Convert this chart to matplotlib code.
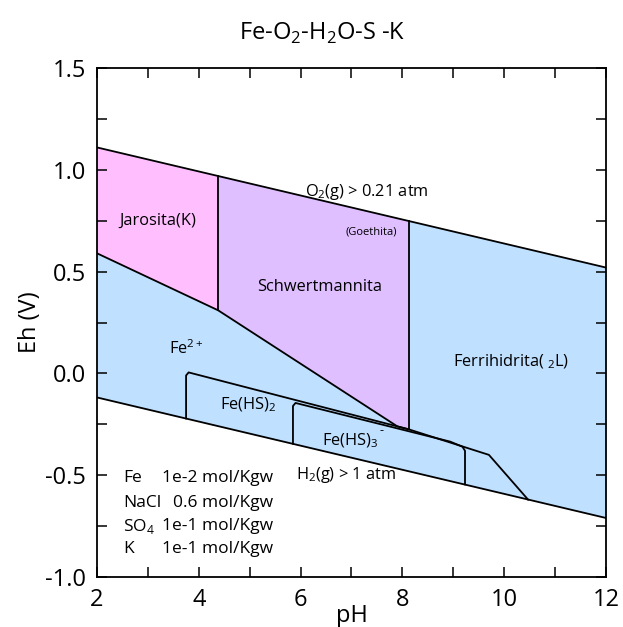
import numpy as np
import matplotlib.pyplot as plt

plt.rcParams['font.family'] = ['Open Sans', 'DejaVu Sans']
plt.rcParams['mathtext.fontset'] = 'custom'
plt.rcParams['mathtext.rm'] = 'Open Sans'

# water stability limits (pH ends)
ph_lim = [2, 12]
eh_o2 = [1.11, 0.52]
eh_h2 = [-0.118, -0.71]

# region boundaries
jaro_ph = [2, 4.38, 4.38, 2]
jaro_eh = [1.11, 0.97, 0.31, 0.59]
schw_ph = [4.38, 8.13, 8.13, 7.9, 4.38]
schw_eh = [0.97, 0.75, -0.275, -0.26, 0.31]

fe2_low_ph = [2, 4.38, 7.9, 8.13]
fe2_low_eh = [0.59, 0.31, -0.26, -0.275]

feHS2_ph = [3.75, 3.75, 3.8, 7.9, 8.13, 9.7, 10.47]
feHS2_eh = [-0.221, -0.01, 0.005, -0.26, -0.275, -0.40, -0.62]

feHS3_ph = [5.85, 5.85, 5.9, 8.94, 9.18, 9.23, 9.23]
feHS3_eh = [-0.345, -0.16, -0.145, -0.335, -0.36, -0.38, -0.545]

jaro_v_ph = [4.38, 4.38]
jaro_v_eh = [0.97, 0.31]
schw_v_ph = [8.13, 8.13]
schw_v_eh = [0.75, -0.275]

c_blue = '#bfe0ff'
c_pink = '#ffbfff'
c_lav = '#dfbfff'

fig = plt.figure(figsize=(6.23, 6.27), dpi=100)
ax = fig.add_axes([0.1557, 0.0797, 0.817, 0.8118])

ax.fill_between(ph_lim, eh_h2, eh_o2, color=c_blue, lw=0)
ax.fill(jaro_ph, jaro_eh, color=c_pink, lw=0)
ax.fill(schw_ph, schw_eh, color=c_lav, lw=0)

lw = 1.3
ax.plot(ph_lim, eh_o2, 'k', lw=lw)
ax.plot(ph_lim, eh_h2, 'k', lw=lw)
ax.plot(fe2_low_ph, fe2_low_eh, 'k', lw=lw)
ax.plot(jaro_v_ph, jaro_v_eh, 'k', lw=lw)
ax.plot(schw_v_ph, schw_v_eh, 'k', lw=lw)
ax.plot(feHS2_ph, feHS2_eh, 'k', lw=lw)
ax.plot(feHS3_ph, feHS3_eh, 'k', lw=lw)

fs = 11.8
ax.text(3.2, 0.75, 'Jarosita(K)', fontsize=fs, ha='center', va='center')
ax.text(6.38, 0.425, 'Schwertmannita', fontsize=fs, ha='center', va='center')
ax.text(7.38, 0.695, '(Goethita)', fontsize=8, ha='center', va='center')
ax.text(7.3, 0.89, r'O$_2$(g) > 0.21 atm', fontsize=fs, ha='center', va='center')
ax.text(10.13, 0.056, r'Ferrihidrita( $_2$L)', fontsize=fs, ha='center', va='center')
ax.text(3.75, 0.12, r'Fe$^{2+}$', fontsize=fs, ha='center', va='center')
ax.text(4.97, -0.155, r'Fe(HS)$_2$', fontsize=fs, ha='center', va='center')
ax.text(6.97, -0.33, r'Fe(HS)$_3$', fontsize=fs, ha='center', va='center')
ax.annotate('-', xy=(6.97, -0.33), xytext=(21, 7), textcoords='offset points',
            fontsize=9, ha='left', va='center')
ax.text(6.9, -0.50, r'H$_2$(g) > 1 atm', fontsize=fs, ha='center', va='center')

names = ['Fe', 'NaCl', r'SO$_4$', 'K']
concs = ['1e-2 mol/Kgw', '0.6 mol/Kgw', '1e-1 mol/Kgw', '1e-1 mol/Kgw']
row_eh = [-0.514, -0.637, -0.75, -0.862]
for n, c, y in zip(names, concs, row_eh):
    ax.text(2.51, y, n, fontsize=12.5, ha='left', va='center')
    ax.text(5.46, y, c, fontsize=12.5, ha='right', va='center')

ax.set_xlim(2, 12)
ax.set_ylim(-1.0, 1.5)
ax.set_xticks(np.arange(2, 13, 2))
ax.set_xticks(np.arange(3, 12, 2), minor=True)
ax.set_yticks(np.arange(-1.0, 1.51, 0.5))
ax.set_yticks(np.arange(-0.75, 1.5, 0.5), minor=True)
ax.set_yticklabels(['-1.0', '-0.5', '0.0', '0.5', '1.0', '1.5'])
ax.tick_params(which='both', direction='in', top=True, right=True,
               length=7, width=1.1, labelsize=17, pad=8)
for s in ax.spines.values():
    s.set_linewidth(1.3)

ax.set_xlabel('pH', fontsize=17, labelpad=-6)
ax.set_ylabel('Eh (V)', fontsize=17, labelpad=2)
fig.text(0.517, 0.947, r'Fe-O$_2$-H$_2$O-S -K', fontsize=17, ha='center', va='center')

fig.savefig('out.png', dpi=100)
